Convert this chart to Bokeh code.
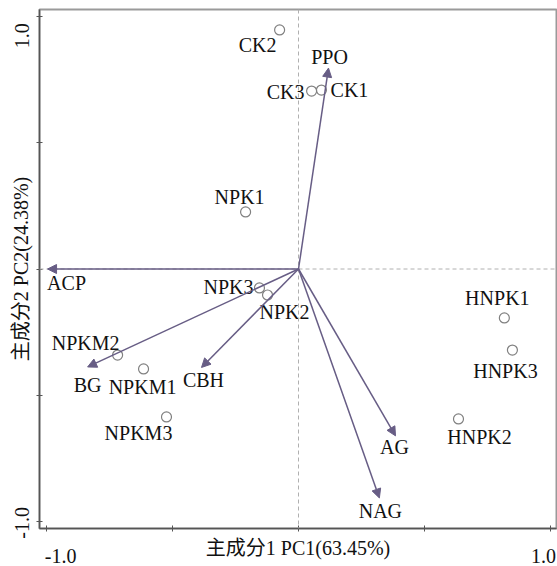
from bokeh.plotting import figure
from bokeh.models import (ColumnDataSource, Arrow, NormalHead, Span,
                          FixedTicker, Range1d)
from bokeh.core.properties import value
from bokeh.embed import file_html
from bokeh.resources import INLINE
import math

# ---- data (PCA biplot) ----
sample_names = ["CK1", "CK2", "CK3", "NPK1", "NPK2", "NPK3",
                "NPKM1", "NPKM2", "NPKM3", "HNPK1", "HNPK2", "HNPK3"]
sample_pc1 = [0.091, -0.075, 0.052, -0.21, -0.123, -0.155,
              -0.615, -0.718, -0.524, 0.817, 0.635, 0.849]
sample_pc2 = [0.709, 0.947, 0.705, 0.226, -0.103, -0.075,
              -0.396, -0.341, -0.586, -0.194, -0.594, -0.321]

var_names = ["PPO", "ACP", "BG", "CBH", "AG", "NAG"]
var_pc1 = [0.119, -0.996, -0.837, -0.385, 0.385, 0.321]
var_pc2 = [0.796, 0.0, -0.388, -0.39, -0.661, -0.907]

x_title = "主成分1 PC1(63.45%)"
y_title = "主成分2 PC2(24.38%)"
tick_values = [-1.0, -0.5, 0.0, 0.5, 1.0]
tick_labels = ["-1.0", "1.0"]

# ---- label placement (screen px offsets / label anchor positions) ----
sample_off = {"CK1": (28, 0), "CK2": (-22, 15), "CK3": (-26, 1),
              "NPK1": (-6, -15), "NPK2": (17, 17), "NPK3": (-31, -1),
              "NPKM1": (-1, 18), "NPKM2": (-32, -12), "NPKM3": (-28, 16),
              "HNPK1": (-7, -20), "HNPK2": (21, 18), "HNPK3": (-7, 21)}
var_off = {"PPO": (1, -11), "ACP": (19, 14), "BG": (0, 18),
           "CBH": (2, 13), "AG": (-1, 11), "NAG": (1, 13)}
x_label_pos = [-0.944, 0.972]
y_label_pos = [-0.943, 0.974]

FONT = "Liberation Serif, Noto Sans CJK SC"
ARROW_C = "#675d85"

p = figure(width=557, height=566, output_backend="svg", toolbar_location=None,
           x_range=Range1d(-1.028, 1.024), y_range=Range1d(-1.028, 1.028),
           min_border_left=39, min_border_right=1, min_border_top=9,
           min_border_bottom=38)
p.background_fill_color = "white"
p.border_fill_color = "white"
p.outline_line_color = "#9a9a9a"
p.outline_line_width = 2
p.xgrid.visible = False
p.ygrid.visible = False

for ax, pos, std in ((p.xaxis[0], x_label_pos, 14), (p.yaxis[0], y_label_pos, 11)):
    ax.ticker = FixedTicker(ticks=pos, minor_ticks=tick_values)
    ax.major_label_overrides = {pos[0]: tick_labels[0], pos[1]: tick_labels[1]}
    ax.major_tick_line_color = None
    ax.major_label_text_font = FONT
    ax.major_label_text_font_size = "20px"
    ax.major_label_text_color = "#111111"
    ax.major_label_standoff = std
    ax.axis_line_color = "#555555"
    ax.axis_line_width = 1.5
    ax.minor_tick_line_color = "#555555"
    ax.minor_tick_in = 3
    ax.minor_tick_out = 3
    ax.axis_label_text_font = FONT
    ax.axis_label_text_font_size = "20px"
    ax.axis_label_text_font_style = "normal"
    ax.axis_label_text_color = "#111111"

p.xaxis[0].axis_label = x_title
p.xaxis[0].axis_label_standoff = -29
p.yaxis[0].axis_label = y_title
p.yaxis[0].major_label_orientation = math.pi / 2
p.yaxis[0].axis_label_standoff = -26

# reference lines
p.add_layout(Span(location=0, dimension="height", line_color="#b0b0b0",
                  line_dash="4 3", line_width=1))
p.add_layout(Span(location=0, dimension="width", line_color="#b0b0b0",
                  line_dash="4 3", line_width=1))

# arrows
vsrc = ColumnDataSource(dict(
    x0=[0.0] * len(var_names), y0=[0.0] * len(var_names),
    x=var_pc1, y=var_pc2, name=var_names,
    dx=[var_off[n][0] for n in var_names],
    dy=[var_off[n][1] for n in var_names]))
p.add_layout(Arrow(x_start="x0", y_start="y0", x_end="x", y_end="y",
                   source=vsrc, line_color=ARROW_C, line_width=1.5,
                   end=NormalHead(size=9, fill_color=ARROW_C,
                                  line_color=ARROW_C, line_width=1)))

# samples
ssrc = ColumnDataSource(dict(
    x=sample_pc1, y=sample_pc2, name=sample_names,
    dx=[sample_off[n][0] for n in sample_names],
    dy=[sample_off[n][1] for n in sample_names]))
p.scatter("x", "y", source=ssrc, marker="circle", size=10,
          fill_color="white", line_color="#808080", line_width=1.2)

for src in (ssrc, vsrc):
    p.text("x", "y", text="name", source=src, x_offset="dx", y_offset="dy",
           text_font=value(FONT), text_font_size="20px", text_color="#111111",
           text_align="center", text_baseline="middle")

open("out.html", "w").write(file_html(p, INLINE))
